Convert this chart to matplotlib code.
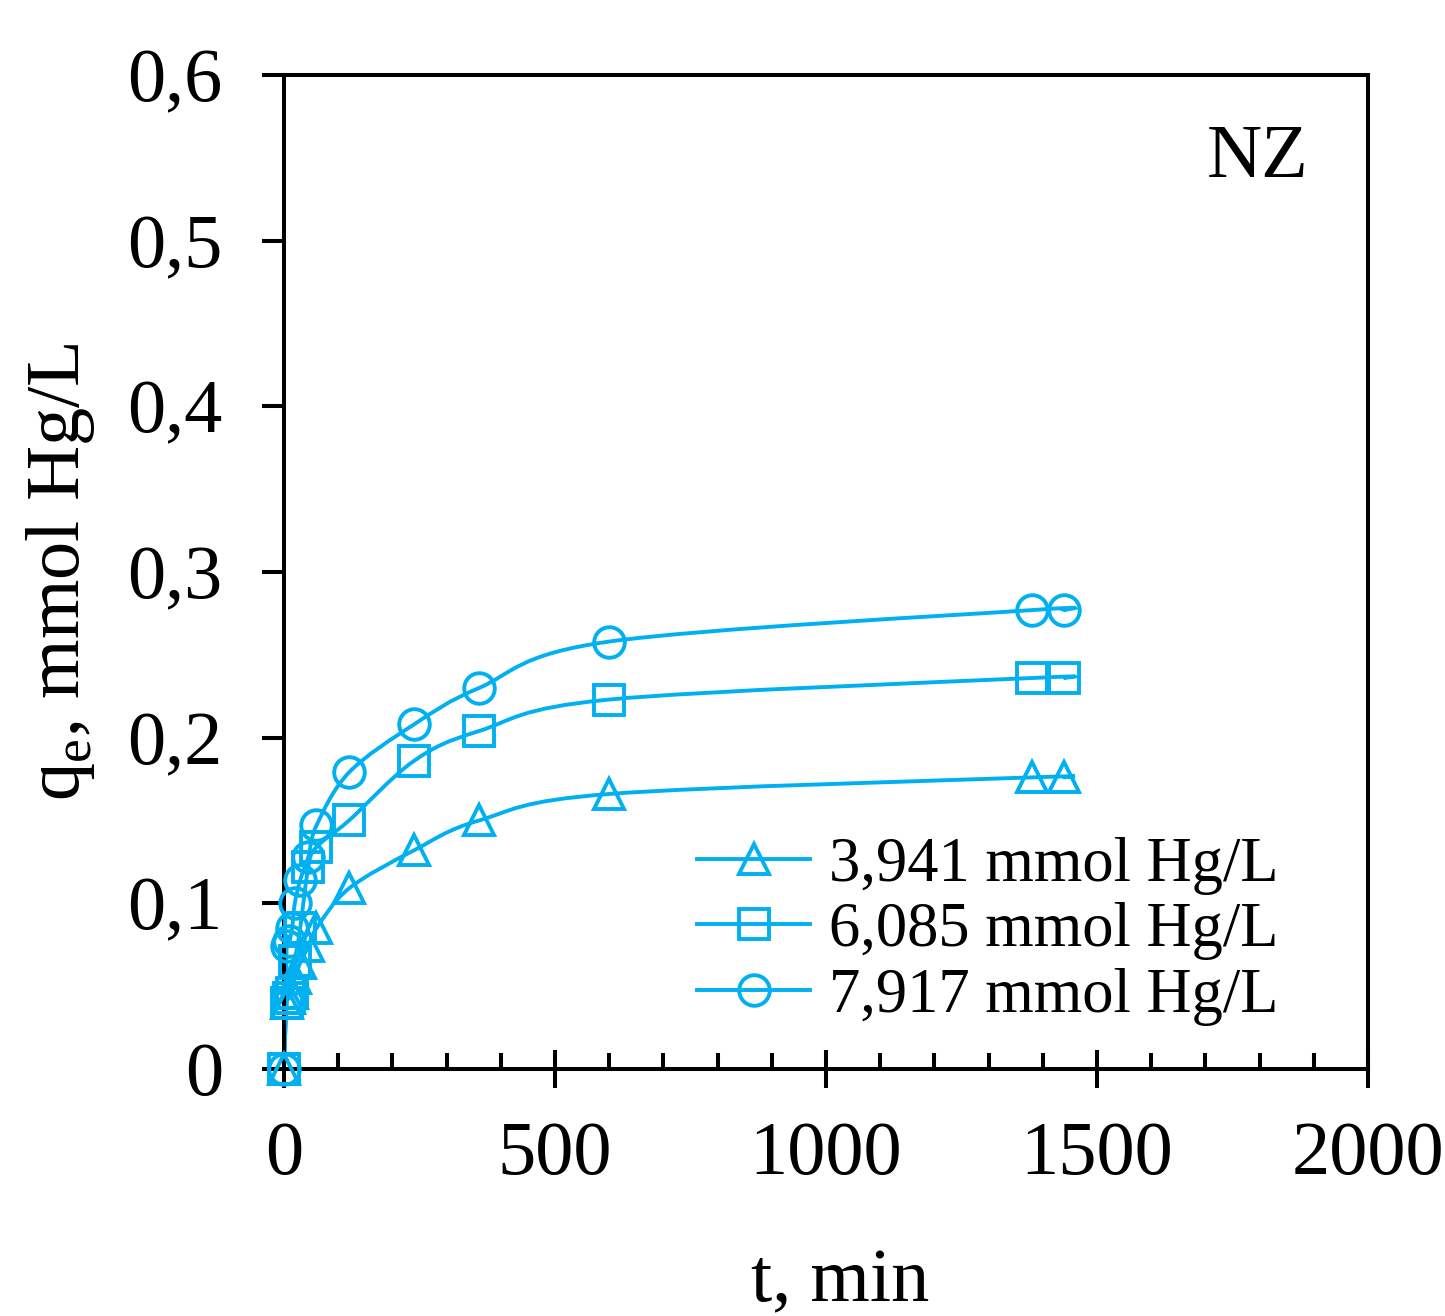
import matplotlib
matplotlib.use("Agg")
import matplotlib.pyplot as plt
from matplotlib.path import Path
from matplotlib.patches import PathPatch
from matplotlib.lines import Line2D
from matplotlib.ticker import MultipleLocator, FuncFormatter

# contact time, min
times = [0, 5, 10, 15, 20, 30, 45, 60, 120, 240, 360, 600, 1380, 1440]

# adsorbed Hg, mmol/L, per initial concentration
q_3941 = [0, 0.040, 0.043, 0.046, 0.055, 0.064, 0.074, 0.085, 0.109, 0.132, 0.150, 0.166, 0.176, 0.176]
q_6085 = [0, 0.040, 0.043, 0.046, 0.065, 0.085, 0.122, 0.134, 0.150, 0.186, 0.204, 0.223, 0.236, 0.236]
q_7917 = [0, 0.074, 0.077, 0.085, 0.100, 0.114, 0.128, 0.147, 0.179, 0.208, 0.230, 0.258, 0.277, 0.277]

labels = ["3,941 mmol Hg/L", "6,085 mmol Hg/L", "7,917 mmol Hg/L"]
markers = ["^", "s", "o"]

COLOR = "#00B0F0"
FONT = "Liberation Serif"
LW = 2.8
FS = 55


def smooth_path(xs, ys):
    # Excel-style smoothed line: cubic Bezier through the points (Catmull-Rom controls)
    pts = list(zip(xs, ys))
    verts = [pts[0]]
    codes = [Path.MOVETO]
    n = len(pts)
    for i in range(n - 1):
        p0 = pts[i - 1] if i > 0 else pts[i]
        p1 = pts[i]
        p2 = pts[i + 1]
        p3 = pts[i + 2] if i + 2 < n else pts[i + 1]
        c1 = (p1[0] + (p2[0] - p0[0]) / 6, p1[1] + (p2[1] - p0[1]) / 6)
        c2 = (p2[0] - (p3[0] - p1[0]) / 6, p2[1] - (p3[1] - p1[1]) / 6)
        verts += [c1, c2, p2]
        codes += [Path.CURVE4] * 3
    return Path(verts, codes)


plt.rcParams["font.family"] = FONT

fig = plt.figure(figsize=(14.45, 13.16), dpi=100)
ax = fig.add_axes([0.1965, 0.1877, 0.9467 - 0.1965, 0.943 - 0.1877])

handles = []
for ys, m, lab in zip([q_3941, q_6085, q_7917], markers, labels):
    patch = PathPatch(smooth_path(times, ys), facecolor="none", edgecolor=COLOR,
                      lw=LW, zorder=2, capstyle="round")
    ax.add_patch(patch)
    ax.plot(times, ys, linestyle="none", marker=m, markersize=22, markerfacecolor="none",
            markeredgecolor=COLOR, markeredgewidth=2.8, zorder=3, clip_on=False)
    handles.append(Line2D([], [], color=COLOR, lw=LW, marker=m, markersize=22,
                          markerfacecolor="none", markeredgecolor=COLOR, markeredgewidth=2.8))

ax.set_xlim(0, 2000)
ax.set_ylim(0, 0.6)
ax.xaxis.set_major_locator(MultipleLocator(500))
ax.xaxis.set_minor_locator(MultipleLocator(100))
ax.yaxis.set_major_locator(MultipleLocator(0.1))

comma = FuncFormatter(lambda v, p: "0" if abs(v) < 1e-9 else f"{v:.1f}".replace(".", ","))
ax.yaxis.set_major_formatter(comma)
ax.xaxis.set_major_formatter(FuncFormatter(lambda v, p: f"{v:.0f}"))

for s in ax.spines.values():
    s.set_linewidth(2.9)

ax.tick_params(axis="x", which="major", direction="inout", length=27, width=2.9,
               labelsize=FS, pad=24)
ax.tick_params(axis="x", which="minor", direction="in", length=11.5, width=2.9)
ax.tick_params(axis="y", which="major", direction="out", length=16, width=2.9,
               labelsize=FS, pad=28)

ax.set_xlabel("t, min", fontsize=FS, labelpad=42)
ax.xaxis.label.set_x(0.513)
ax.set_ylabel(r"q$_\mathregular{e}$, mmol Hg/L", fontsize=FS, labelpad=22)

ax.text(0.945, 0.9165, "NZ", transform=ax.transAxes, ha="right", va="center", fontsize=FS)

ax.legend(handles, labels, loc="center left", bbox_to_anchor=(0.461, 0.2925),
          bbox_transform=fig.transFigure, frameon=False, fontsize=45,
          handlelength=1.8, handletextpad=0.3, labelspacing=0.12, borderpad=0)

fig.savefig("out.png", dpi=100)
